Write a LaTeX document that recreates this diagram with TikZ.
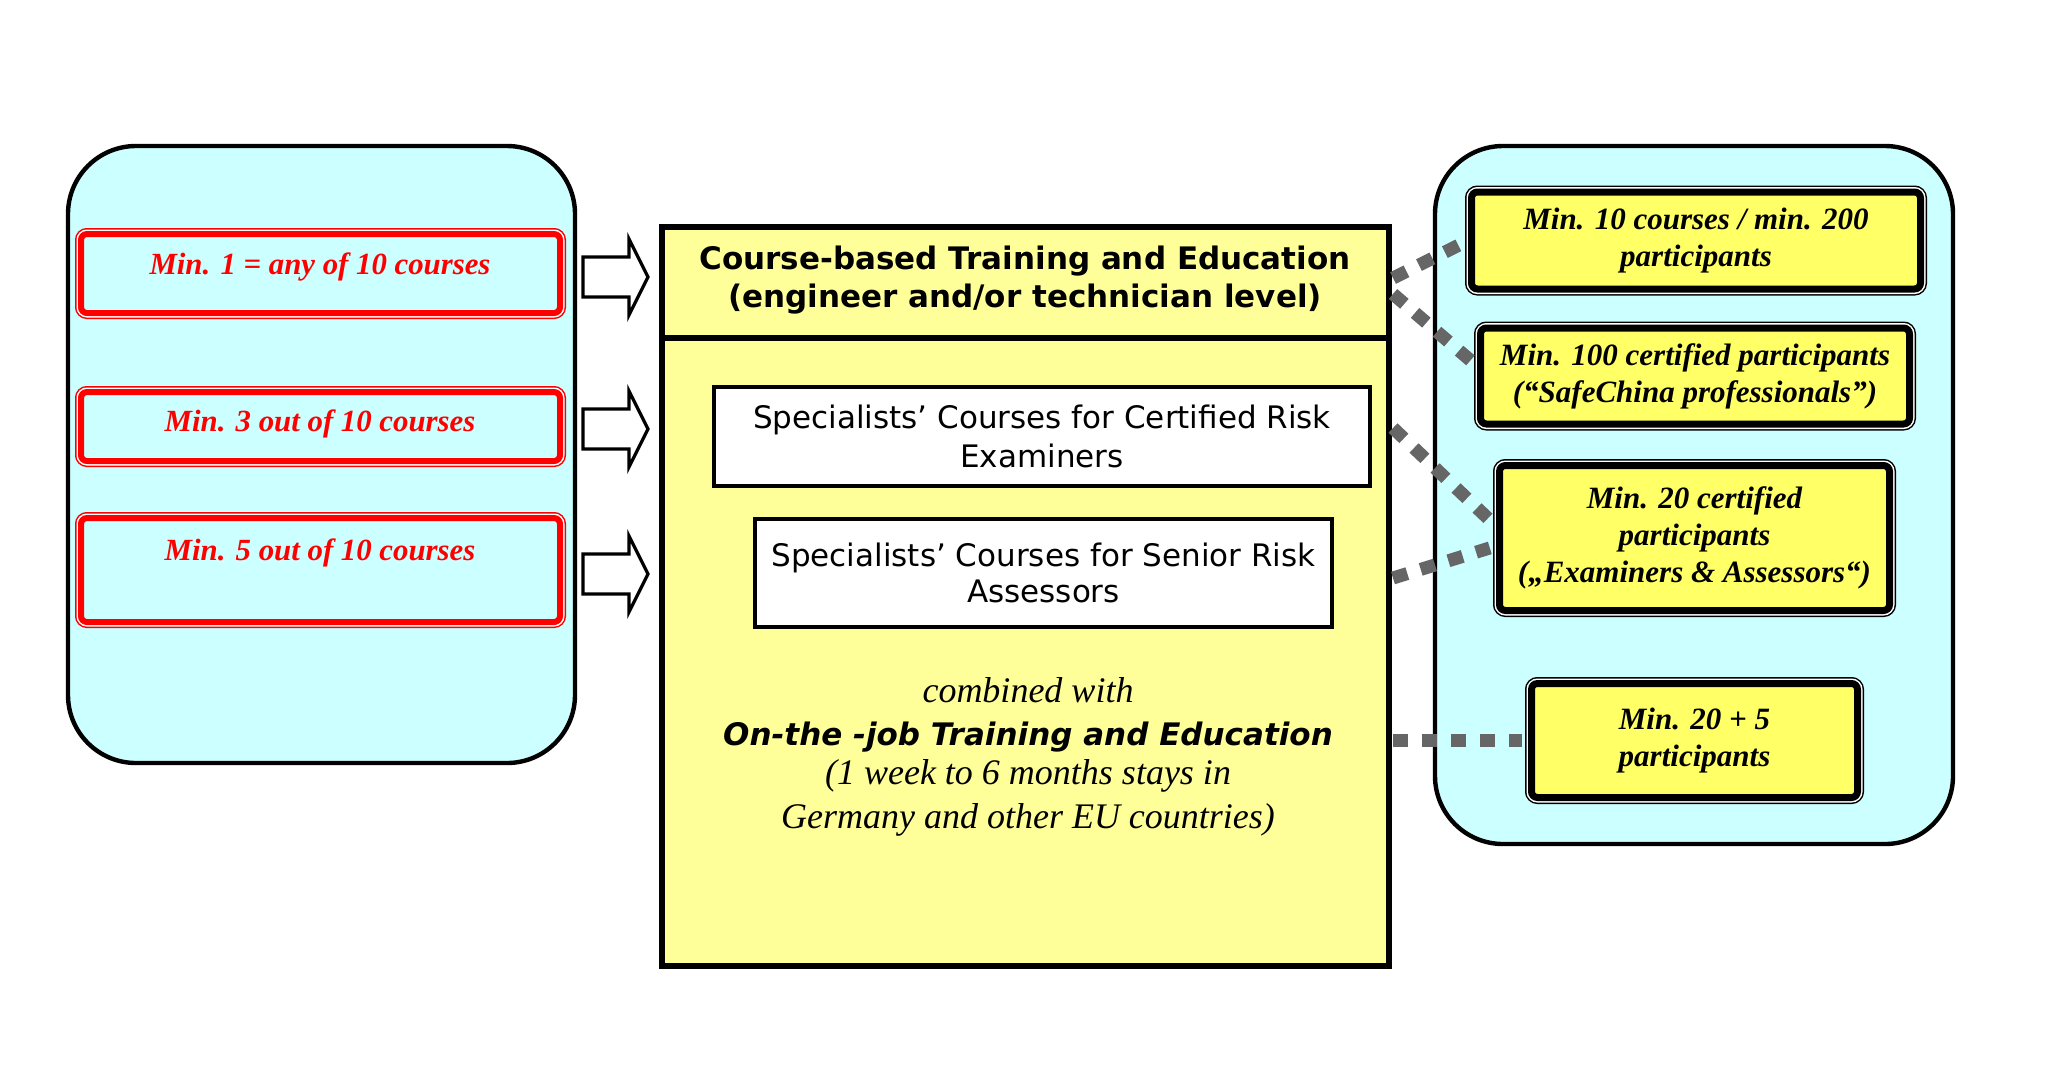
\documentclass[tikz,border=0pt]{standalone}
\usepackage{fontspec}
\setmainfont{Liberation Serif}
\newfontfamily\dejavu{DejaVu Sans}[BoldFont={DejaVu Sans Bold},ItalicFont={DejaVu Sans Oblique},BoldItalicFont={DejaVu Sans Bold Oblique}]
\usetikzlibrary{calc}
\definecolor{cyanbg}{HTML}{CCFFFF}
\definecolor{paleyellow}{HTML}{FFFF99}
\definecolor{brightyellow}{HTML}{FFFF66}
\definecolor{dotgray}{HTML}{666666}
\tikzset{
  panel/.style={draw=black, line width=2.2pt, fill=cyanbg, rounded corners=34pt, inner sep=0pt},
  redbox/.style={draw=red, line width=3pt, fill=cyanbg, rounded corners=3pt, inner sep=0pt,
     preaction={draw=red, line width=6pt}, preaction={draw=white, line width=4.5pt}},
  redtext/.style={text=red, inner sep=0pt, font=\fontsize{15.4pt}{18.5pt}\selectfont\bfseries\itshape},
  yelbox/.style={draw=black, line width=3.5pt, fill=brightyellow, rounded corners=3pt, inner sep=0pt,
     align=center, font=\fontsize{15.5pt}{18.5pt}\selectfont\bfseries\itshape,
     preaction={draw=black, line width=6.5pt}, preaction={draw=white, line width=5pt}},
  blockarrow/.style={draw=black, line width=1.6pt, fill=white, line join=miter},
  mainbox/.style={draw=black, line width=3pt, fill=paleyellow, inner sep=0pt},
  headtext/.style={inner sep=0pt, align=center, font=\dejavu\fontsize{15.5pt}{19.25pt}\selectfont\bfseries},
  specbox/.style={draw=black, line width=2pt, fill=white, inner sep=0pt, align=center},
  timesit/.style={inner sep=0pt, align=center, font=\fontsize{18pt}{21.75pt}\selectfont\itshape},
  ojtext/.style={inner sep=0pt, font=\dejavu\fontsize{15.5pt}{19pt}\selectfont\bfseries\itshape},
  dotlink/.style={draw=dotgray, line width=6.5pt, dash pattern=on 7.5pt off 7pt, shorten >=3.25pt}
}
\begin{document}
\begin{tikzpicture}[x=0.5pt,y=-0.5pt]
\path[use as bounding box, fill=white] (0,0) rectangle (2057,1073);

% side panels
\node[panel, minimum width=253.5pt, minimum height=308.5pt] (left) at (321.5,454.5) {};
\node[panel, minimum width=259pt, minimum height=349pt] (right) at (1694,495) {};

% red boxes
\node[redbox, minimum width=239.5pt, minimum height=39.5pt] (r1) at (320.5,273.5) {};
\node[redbox, minimum width=239.5pt, minimum height=34.5pt] (r2) at (320.5,426.5) {};
\node[redbox, minimum width=239.5pt, minimum height=52pt] (r3) at (320.5,570) {};
\node[redtext] (r1t) at (320,267) {Min. 1 = any of 10 courses};
\node[redtext] (r2t) at (320,424) {Min. 3 out of 10 courses};
\node[redtext] (r3t) at (320,553) {Min. 5 out of 10 courses};

% block arrows
\foreach \yy in {277,429,574}{
  \draw[blockarrow] (583,\yy-20) -- (629,\yy-20) -- (629,\yy-38) -- (648,\yy)
     -- (629,\yy+38) -- (629,\yy+20) -- (583,\yy+20) -- cycle;
}

% main box
\node[mainbox, minimum width=363.5pt, minimum height=369.5pt] (main) at (1025.5,596.5) {};
\coordinate (divy) at (0,338);
\draw[line width=3pt] (main.west |- divy) -- (main.east |- divy);
\node[headtext] (head) at (1025,280) {Course-based Training and Education\\(engineer and/or technician level)};
\node[specbox, minimum width=328pt, minimum height=49.5pt, font=\dejavu\fontsize{15.5pt}{19.8pt}\selectfont] (spA) at (1042,436.5) {Specialists’ Courses for Certified Risk\\Examiners};
\node[specbox, minimum width=288.5pt, minimum height=54pt, font=\dejavu\fontsize{15.5pt}{18pt}\selectfont] (spB) at (1043.5,573) {Specialists’ Courses for Senior Risk\\Assessors};
\node[timesit, anchor=base] (comb) at (1028,702) {combined with};
\node[ojtext, anchor=base] (ojt) at (1028,745.5) {On-the -job Training and Education};
\node[timesit] (stays) at (1028,798) {(1 week to 6 months stays in\\Germany and other EU countries)};

% yellow result boxes
\node[yelbox, minimum width=224.5pt, minimum height=48.5pt] (y1) at (1696,240.5) {Min. 10 courses / min. 200\\participants};
\node[yelbox, minimum width=214.5pt, minimum height=48pt] (y2) at (1695,376) {Min. 100 certified participants\\(“SafeChina professionals”)};
\node[yelbox, minimum width=195pt, minimum height=72.5pt] (y3) at (1694.5,538) {Min. 20 certified\\participants\\(„Examiners \& Assessors“)};
\node[yelbox, minimum width=163pt, minimum height=57pt] (y4) at (1694.5,740.5) {Min. 20 + 5\\participants};

% dotted links
\coordinate (c1) at (1393,278);
\coordinate (c2) at (1393,294);
\coordinate (c3) at (1393,428);
\coordinate (c4) at (1393,578);
\coordinate (c5) at (1393,740.5);
\draw[dotlink] (c1) -- (y1.west);
\draw[dotlink] (c2) -- ($(y2.west)+(0,-10)$);
\draw[dotlink] (c3) -- ($(y3.west)+(0,-12)$);
\draw[dotlink] (c4) -- ($(y3.west)+(0,8)$);
\draw[dotlink] (c5) -- (y4.west);
\end{tikzpicture}
\end{document}
